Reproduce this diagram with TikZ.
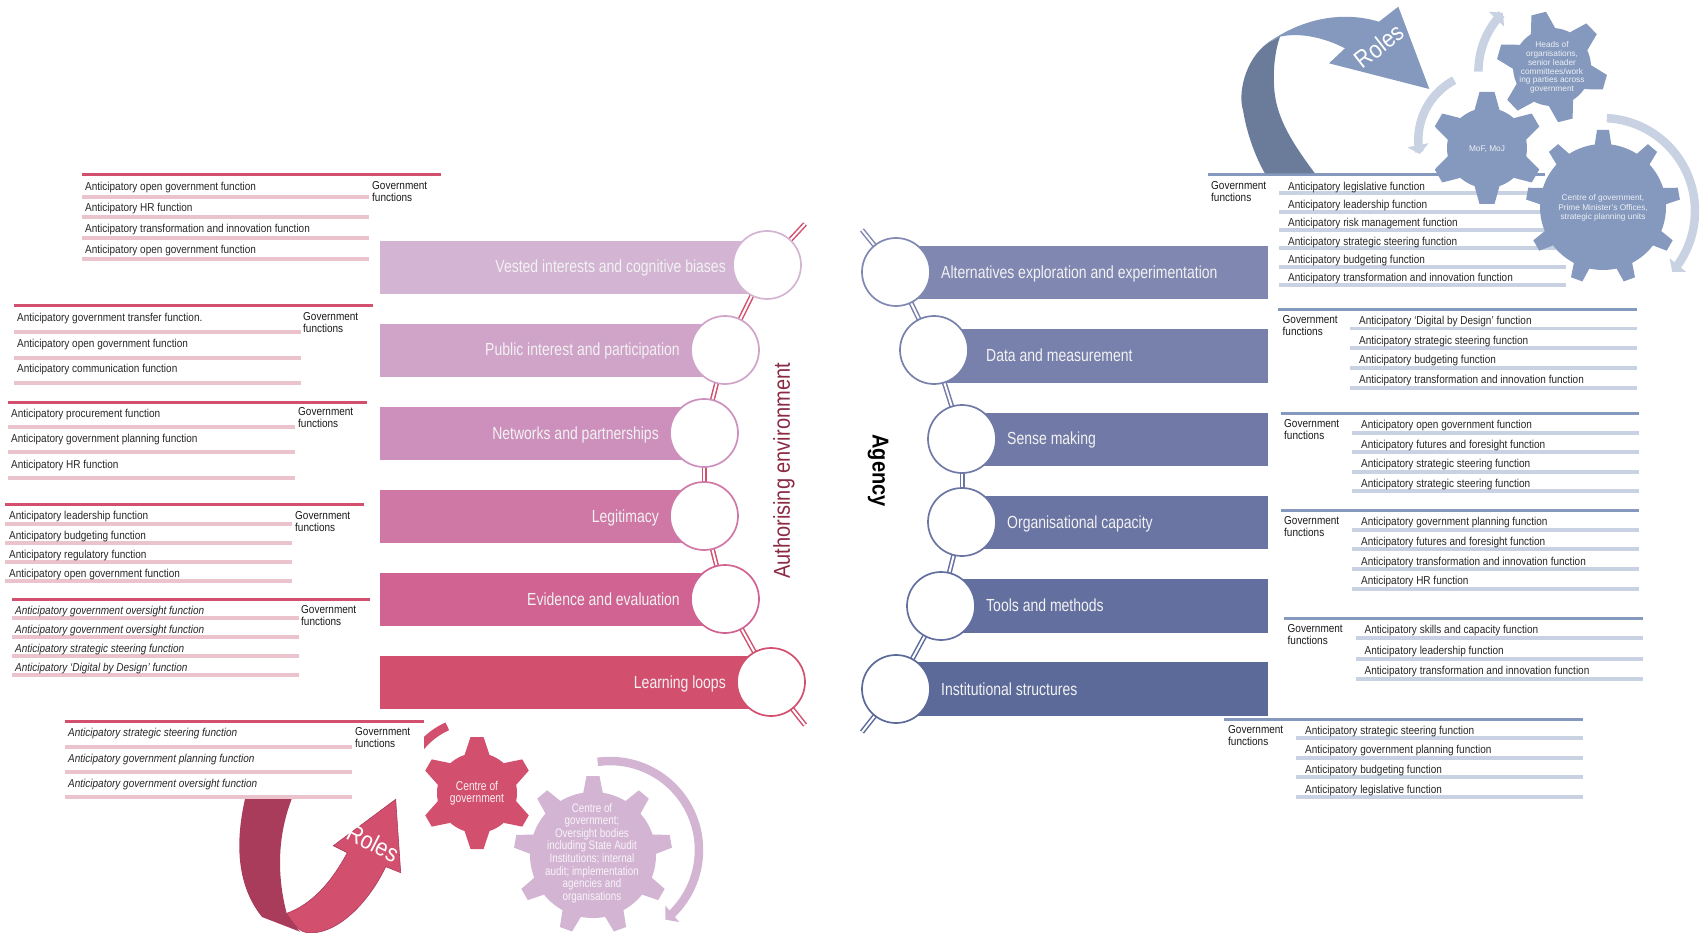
\documentclass[tikz,border=0pt]{standalone}
\usepackage{fontspec}
\usetikzlibrary{arrows.meta}
\setmainfont{Liberation Sans}
\newfontfamily\nf[FakeStretch=0.87]{Liberation Sans}
\newfontfamily\nn[FakeStretch=0.8]{Liberation Sans}
\definecolor{redtop}{HTML}{D24F6E}
\definecolor{redrow}{HTML}{EBC3CC}
\definecolor{bluetop}{HTML}{8499BD}
\definecolor{bluerow}{HTML}{C9D2E3}
\definecolor{reddark}{HTML}{A83C5A}
\definecolor{bluedark}{HTML}{6A7C99}
\definecolor{purp}{HTML}{D3B5D3}
\definecolor{authc}{HTML}{8B2A45}
\definecolor{lb1}{HTML}{D3B5D3}\definecolor{lb2}{HTML}{D0A3C9}\definecolor{lb3}{HTML}{CD90BC}
\definecolor{lb4}{HTML}{CF78A6}\definecolor{lb5}{HTML}{D06392}\definecolor{lb6}{HTML}{D24F6E}
\definecolor{rb1}{HTML}{8087B1}\definecolor{rb2}{HTML}{7880AC}\definecolor{rb3}{HTML}{717AA7}
\definecolor{rb4}{HTML}{6A75A3}\definecolor{rb5}{HTML}{636F9F}\definecolor{rb6}{HTML}{5C6A9A}
\tikzset{
  x=1pt,y=-1pt,
  rowtxt/.style={anchor=west,inner sep=0pt,text height=10.5pt,text depth=1pt,font=\nf\fontsize{11.5}{12}\selectfont,text=black!85},
  itxt/.style={rowtxt,font=\nf\itshape\fontsize{11.5}{12}\selectfont},
  govlab/.style={anchor=north west,inner sep=0pt,align=left,yshift=-2.5pt,font=\nf\fontsize{11.5}{12}\selectfont,text=black!90},
  toprule/.style={line width=3pt},
  rowrule/.style={line width=3.3pt},
  bartxt/.style={inner sep=0pt,text=white!95!black,font=\nn\fontsize{17.5}{18}\selectfont,text height=15pt,text depth=1.5pt},
  ringc/.style={circle,fill=white,draw=#1,line width=1.7pt,minimum size=68pt,inner sep=0pt},
  link/.style={draw=#1,double=white,double distance=2pt,line width=1.5pt},
  gearsm/.style={inner sep=0pt,align=center,text=white!85!bluetop},
}
% \gearshape{cx}{cy}{rbody}{router}{n}{offset}{basehalf}{tophalf}{colour}
\newcommand{\gearshape}[9]{%
  \fill[#9] (#1,#2) circle[radius=#3pt];
  \foreach \k in {1,...,#5}{%
    \pgfmathsetmacro\aa{#6+360/#5*(\k-1)}%
    \pgfmathsetmacro\rr{#3-2}%
    \fill[#9] ({#1+\rr*cos(\aa)-#7*sin(\aa)},{#2-\rr*sin(\aa)-#7*cos(\aa)})
      -- ({#1+#4*cos(\aa)-#8*sin(\aa)},{#2-#4*sin(\aa)-#8*cos(\aa)})
      -- ({#1+#4*cos(\aa)+#8*sin(\aa)},{#2-#4*sin(\aa)+#8*cos(\aa)})
      -- ({#1+\rr*cos(\aa)+#7*sin(\aa)},{#2-\rr*sin(\aa)+#7*cos(\aa)}) -- cycle;
  }}
% \arcarrow{cx}{cy}{r}{from}{to}{colour}
\newcommand{\arcarrow}[6]{%
  \draw[#6,line width=8.5pt,-{Triangle[width=21pt,length=9pt]}]
    plot[smooth,domain=#4:#5,samples=30,variable=\t] ({#1+#3*cos(\t)},{#2-#3*sin(\t)});}
\begin{document}
\begin{tikzpicture}
\useasboundingbox (0,0) rectangle (1700,933);
%----- left bars
\fill[lb1] (380,241) rectangle (767,294);
\fill[lb2] (380,324) rectangle (725,377);
\fill[lb3] (380,407) rectangle (704,460);
\fill[lb4] (380,490) rectangle (704,543);
\fill[lb5] (380,573) rectangle (725,626);
\fill[lb6] (380,656) rectangle (771,709);
\coordinate (ltop) at (805,224);
\coordinate (lbot) at (805,725);
\path[link=redtop] (767,265) -- (ltop);
\path[link=redtop] (767,265) -- (725,350);
\path[link=redtop] (725,350) -- (704,433);
\path[link=redtop] (704,433) -- (704,516);
\path[link=redtop] (704,516) -- (725,599);
\path[link=redtop] (725,599) -- (771,682);
\path[link=redtop] (771,682) -- (lbot);
\node[ringc=lb1] (l1) at (767,265) {};
\node[ringc=lb2] (l2) at (725,350) {};
\node[ringc=lb3] (l3) at (704,433) {};
\node[ringc=lb4] (l4) at (704,516) {};
\node[ringc=lb5] (l5) at (725,599) {};
\node[ringc=lb6] (l6) at (771,682) {};
\node[bartxt,anchor=east] (lt1) at (726,266) {Vested interests and cognitive biases};
\node[bartxt,anchor=east] (lt2) at (680,349) {Public interest and participation};
\node[bartxt,anchor=east] (lt3) at (659,433) {Networks and partnerships};
\node[bartxt,anchor=east] (lt4) at (659,516) {Legitimacy};
\node[bartxt,anchor=east] (lt5) at (680,599) {Evidence and evaluation};
\node[bartxt,anchor=east] (lt6) at (726,682) {Learning loops};
\node[rotate=90,inner sep=0pt,text=authc,font=\nf\fontsize{23}{24}\selectfont] (auth) at (784,471) {Authorising environment};
%----- right bars
\fill[rb1] (896,246) rectangle (1268,299);
\fill[rb2] (934,329) rectangle (1268,383);
\fill[rb3] (962,413) rectangle (1268,466);
\fill[rb4] (962,496) rectangle (1268,549);
\fill[rb5] (941,579) rectangle (1268,633);
\fill[rb6] (896,662) rectangle (1268,716);
\coordinate (rtop) at (862,230);
\coordinate (rbot) at (862,732);
\path[link=rb1] (896,272) -- (rtop);
\path[link=rb2] (896,272) -- (934,350);
\path[link=rb3] (934,350) -- (962,439);
\path[link=rb4] (962,439) -- (962,522);
\path[link=rb5] (962,522) -- (941,606);
\path[link=rb6] (941,606) -- (896,689);
\path[link=rb6] (896,689) -- (rbot);
\node[ringc=rb1] (r1) at (896,272) {};
\node[ringc=rb2] (r2) at (934,350) {};
\node[ringc=rb3] (r3) at (962,439) {};
\node[ringc=rb4] (r4) at (962,522) {};
\node[ringc=rb5] (r5) at (941,606) {};
\node[ringc=rb6] (r6) at (896,689) {};
\node[bartxt,anchor=west] (rt1) at (941,272) {Alternatives exploration and experimentation};
\node[bartxt,anchor=west] (rt2) at (986,355) {Data and measurement};
\node[bartxt,anchor=west] (rt3) at (1007,438) {Sense making};
\node[bartxt,anchor=west] (rt4) at (1007,522) {Organisational capacity};
\node[bartxt,anchor=west] (rt5) at (986,605) {Tools and methods};
\node[bartxt,anchor=west] (rt6) at (941,689) {Institutional structures};
\node[rotate=-90,inner sep=0pt,text=black,font=\nf\bfseries\fontsize{23}{24}\selectfont] (agency) at (878,470.5) {Agency};
%----- left tables
\draw[redtop,toprule] (82,175) -- (441,175);
\foreach \y in {197,217,238,259}{\draw[redrow,rowrule] (82,\y) -- (369,\y);}
\node[rowtxt] (a1) at (85,186) {Anticipatory open government function};
\node[rowtxt] (a2) at (85,207) {Anticipatory HR function};
\node[rowtxt] (a3) at (85,228) {Anticipatory transformation and innovation function};
\node[rowtxt] (a4) at (85,249) {Anticipatory open government function};
\node[govlab] (ag) at (372,178.5) {Government\\functions};

\draw[redtop,toprule] (14,306) -- (373,306);
\foreach \y in {332,358,383}{\draw[redrow,rowrule] (14,\y) -- (301,\y);}
\node[rowtxt] (b1) at (17,317) {Anticipatory government transfer function.};
\node[rowtxt] (b2) at (17,343) {Anticipatory open government function};
\node[rowtxt] (b3) at (17,368) {Anticipatory communication function};
\node[govlab] (bg) at (303,309.5) {Government\\functions};

\draw[redtop,toprule] (8,402) -- (367,402);
\foreach \y in {427,452,478}{\draw[redrow,rowrule] (8,\y) -- (295,\y);}
\node[rowtxt] (c1) at (11,413) {Anticipatory procurement function};
\node[rowtxt] (c2) at (11,438) {Anticipatory government planning function};
\node[rowtxt] (c3) at (11,464) {Anticipatory HR function};
\node[govlab] (cg) at (298,405) {Government\\functions};

\draw[redtop,toprule] (5,504) -- (364,504);
\foreach \y in {524,543,562,581}{\draw[redrow,rowrule] (5,\y) -- (292,\y);}
\node[rowtxt] (d1) at (9,515) {Anticipatory leadership function};
\node[rowtxt] (d2) at (9,535) {Anticipatory budgeting function};
\node[rowtxt] (d3) at (9,554) {Anticipatory regulatory function};
\node[rowtxt] (d4) at (9,573) {Anticipatory open government function};
\node[govlab] (dg) at (295,508.5) {Government\\functions};

\draw[redtop,toprule] (12,599) -- (370,599);
\foreach \y in {618,637,656,675}{\draw[redrow,rowrule] (12,\y) -- (299,\y);}
\node[itxt] (e1) at (15,610) {Anticipatory government oversight function};
\node[itxt] (e2) at (15,629) {Anticipatory government oversight function};
\node[itxt] (e3) at (15,648) {Anticipatory strategic steering function};
\node[itxt] (e4) at (15,667) {Anticipatory ‘Digital by Design’ function};
\node[govlab] (eg) at (301,603) {Government\\functions};

\draw[redtop,toprule] (65,721) -- (424,721);
\foreach \y in {747,772,797}{\draw[redrow,rowrule] (65,\y) -- (352,\y);}
\node[itxt] (f1) at (68,732) {Anticipatory strategic steering function};
\node[itxt] (f2) at (68,758) {Anticipatory government planning function};
\node[itxt] (f3) at (68,783) {Anticipatory government oversight function};
\node[govlab] (fg) at (355,725) {Government\\functions};
%----- right tables
\draw[bluetop,toprule] (1208,175) -- (1545,175);
\foreach \y in {193,212,230,248,267,285}{\draw[bluerow,rowrule] (1279,\y) -- (1566,\y);}
\node[rowtxt] (g1) at (1288,186) {Anticipatory legislative function};
\node[rowtxt] (g2) at (1288,204) {Anticipatory leadership function};
\node[rowtxt] (g3) at (1288,222) {Anticipatory risk management function};
\node[rowtxt] (g4) at (1288,241) {Anticipatory strategic steering function};
\node[rowtxt] (g5) at (1288,259) {Anticipatory budgeting function};
\node[rowtxt] (g6) at (1288,277) {Anticipatory transformation and innovation function};
\node[govlab] (gg) at (1211,178.5) {Government\\functions};

\draw[bluetop,toprule] (1278,309.5) -- (1637,309.5);
\foreach \y in {328.5,348,368,388}{\draw[bluerow,rowrule] (1350,\y) -- (1637,\y);}
\node[rowtxt] (h1) at (1359,320) {Anticipatory ‘Digital by Design’ function};
\node[rowtxt] (h2) at (1359,340) {Anticipatory strategic steering function};
\node[rowtxt] (h3) at (1359,359) {Anticipatory budgeting function};
\node[rowtxt] (h4) at (1359,379) {Anticipatory transformation and innovation function};
\node[govlab] (hg) at (1282.5,313) {Government\\functions};

\draw[bluetop,toprule] (1281,413.5) -- (1639,413.5);
\foreach \y in {433,452,472,491}{\draw[bluerow,rowrule] (1352,\y) -- (1639,\y);}
\node[rowtxt] (i1) at (1361,424) {Anticipatory open government function};
\node[rowtxt] (i2) at (1361,444) {Anticipatory futures and foresight function};
\node[rowtxt] (i3) at (1361,463) {Anticipatory strategic steering function};
\node[rowtxt] (i4) at (1361,483) {Anticipatory strategic steering function};
\node[govlab] (ig) at (1284,417) {Government\\functions};

\draw[bluetop,toprule] (1281,510) -- (1639,510);
\foreach \y in {530,549,569,589}{\draw[bluerow,rowrule] (1352,\y) -- (1639,\y);}
\node[rowtxt] (j1) at (1361,521) {Anticipatory government planning function};
\node[rowtxt] (j2) at (1361,541) {Anticipatory futures and foresight function};
\node[rowtxt] (j3) at (1361,561) {Anticipatory transformation and innovation function};
\node[rowtxt] (j4) at (1361,580) {Anticipatory HR function};
\node[govlab] (jg) at (1284,514) {Government\\functions};

\draw[bluetop,toprule] (1284,618) -- (1643,618);
\foreach \y in {638,659,679}{\draw[bluerow,rowrule] (1356,\y) -- (1643,\y);}
\node[rowtxt] (k1) at (1364.5,629) {Anticipatory skills and capacity function};
\node[rowtxt] (k2) at (1364.5,650) {Anticipatory leadership function};
\node[rowtxt] (k3) at (1364.5,670) {Anticipatory transformation and innovation function};
\node[govlab] (kg) at (1287.5,622) {Government\\functions};

\draw[bluetop,toprule] (1224,719) -- (1583,719);
\foreach \y in {738,758,777,797}{\draw[bluerow,rowrule] (1296,\y) -- (1583,\y);}
\node[rowtxt] (m1) at (1305,730) {Anticipatory strategic steering function};
\node[rowtxt] (m2) at (1305,749) {Anticipatory government planning function};
\node[rowtxt] (m3) at (1305,769) {Anticipatory budgeting function};
\node[rowtxt] (m4) at (1305,789) {Anticipatory legislative function};
\node[govlab] (mg) at (1228,722.5) {Government\\functions};
%----- top right: arrow + gears
\fill[bluedark] (1268,42.7) .. controls (1244,60) and (1238,95) .. (1243,110)
  .. controls (1247,135) and (1256,158) .. (1265,173.5) -- (1315,173.5)
  .. controls (1290,140) and (1275,115) .. (1274,85)
  .. controls (1273,65) and (1276,48) .. (1280,36.7) -- cycle;
\fill[bluetop] (1268,42.7) .. controls (1300,20) and (1340,10) .. (1379,21.7)
  -- (1398.3,6.7) -- (1429.3,89) -- (1329,63.3) -- (1345,48.3)
  .. controls (1325,38) and (1300,32) .. (1280,36.7) -- cycle;
\node[rotate=38,inner sep=0pt,text=white,font=\nf\fontsize{24.5}{26}\selectfont] (roles1) at (1379,46) {Roles};
\arcarrow{1602}{211}{93}{87}{-41}{bluerow}
\arcarrow{1486}{140}{67.7}{118}{192}{bluerow}
\arcarrow{1561.7}{71.7}{83.3}{180}{135}{bluerow}
\gearshape{1603}{207}{63}{77}{9}{90}{8.5}{6}{bluetop}
\gearshape{1487}{148}{40}{56}{6}{90}{12.5}{7.5}{bluetop}
\gearshape{1552}{67}{39}{55}{6}{104}{12.5}{7.5}{bluetop}
\node[gearsm,font=\fontsize{8.3}{8.9}\selectfont] (gr1) at (1552,67.5) {Heads of\\organisations,\\senior leader\\committees/work\\ing parties across\\government};
\node[gearsm,font=\fontsize{8.3}{9}\selectfont] (gr2) at (1487,149.5) {MoF, MoJ};
\node[gearsm,font=\fontsize{8.3}{9.4}\selectfont] (gr3) at (1603,208) {Centre of government,\\Prime Minister’s Offices,\\strategic planning units};
%----- bottom: arrow + gears
\fill[reddark] (245,799) .. controls (238,830) and (232,880) .. (262,917) -- (300,931.7)
  -- (286.7,913.3) .. controls (278,880) and (276,840) .. (291.7,799) -- cycle;
\filldraw[fill=redtop,draw=reddark,line width=.6pt] (286.7,913.3) .. controls (310,905) and (330,885) .. (347.3,852.7)
  -- (333.3,845.7) -- (395.7,799.3) -- (400.7,872.7) -- (385.7,866.7)
  .. controls (370,900) and (340,933) .. (310,933) .. controls (300,933) and (294,925) .. (286.7,913.3) -- cycle;
\node[rotate=-27,inner sep=0pt,text=white,font=\nf\fontsize{24.5}{26}\selectfont] (roles2) at (373,843) {Roles};
\begin{scope}
\clip (424,700) rectangle (500,780);
\draw[redtop,line width=8.5pt] plot[smooth,domain=114:150,samples=12,variable=\t] ({477+73*cos(\t)},{793-73*sin(\t)});
\end{scope}
\draw[purp,line width=8.5pt,-{Triangle[width=21pt,length=9pt]}]
  plot[smooth,domain=98:-51.5,samples=30,variable=\t] ({610+89*cos(\t)},{850-89*sin(\t)});
\gearshape{477}{793}{40}{56}{6}{90}{12.5}{6.5}{redtop}
\gearshape{593}{855}{63}{79}{9}{90}{10}{6.5}{purp}
\node[inner sep=0pt,align=center,text=white!92!redtop,font=\nn\fontsize{12.8}{12}\selectfont] (gb1) at (477,793.5) {Centre of\\government};
\node[inner sep=0pt,align=center,text=white!85!purp,font=\nn\fontsize{12.3}{12.6}\selectfont] (gb2) at (592,853) {Centre of\\government;\\Oversight bodies\\including State Audit\\Institutions; internal\\audit; implementation\\agencies and\\organisations};
\end{tikzpicture}
\end{document}
